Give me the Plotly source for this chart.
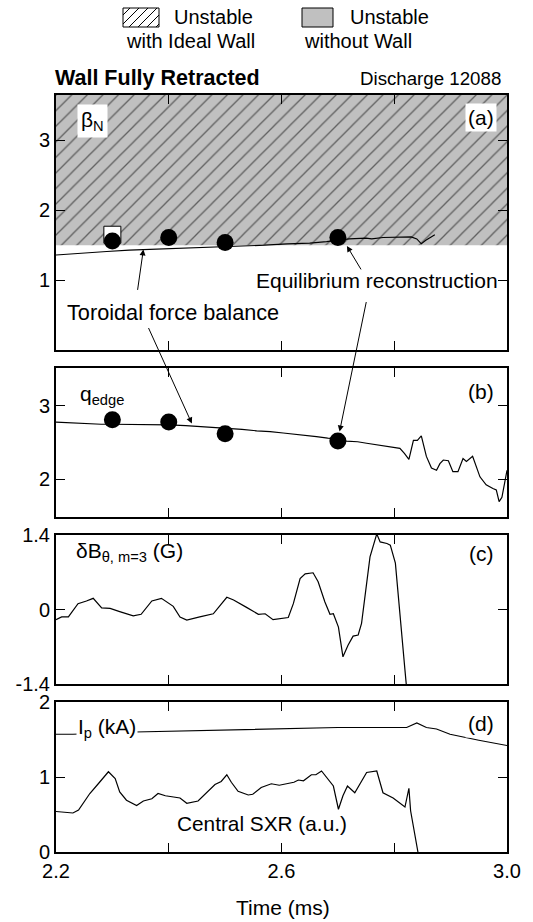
import plotly.graph_objects as go

# ---------------- data ----------------
time_range = [2.2, 3.0]
x_tickvals = [2.2, 2.4, 2.6, 2.8, 3.0]
x_ticktext = ["2.2", "", "2.6", "", "3.0"]

# (a) beta_N
nowall_limit = 1.5          # lower edge of unstable region
beta_top = 3.7
beta_t = [2.2, 2.23, 2.26, 2.29, 2.33, 2.37, 2.41, 2.45, 2.49, 2.53, 2.57, 2.61, 2.65,
          2.68, 2.70, 2.72, 2.75, 2.76, 2.78, 2.81, 2.83, 2.84, 2.848, 2.856, 2.865, 2.872]
beta_v = [1.36, 1.38, 1.39, 1.41, 1.43, 1.44, 1.45, 1.46, 1.47, 1.48, 1.50, 1.52, 1.53,
          1.55, 1.57, 1.59, 1.60, 1.59, 1.61, 1.61, 1.62, 1.59, 1.52, 1.57, 1.61, 1.65]
beta_eq_t = [2.3, 2.4, 2.5, 2.7]
beta_eq_v = [1.56, 1.61, 1.54, 1.61]
beta_sq_t = [2.3]
beta_sq_v = [1.65]

# (b) q_edge
q_t = [2.2, 2.22, 2.25, 2.28, 2.3, 2.325, 2.35, 2.37, 2.4, 2.43, 2.455, 2.48, 2.514, 2.53,
       2.556, 2.58, 2.603, 2.63, 2.662, 2.682, 2.7, 2.715, 2.735, 2.751, 2.77, 2.792, 2.81,
       2.818, 2.826, 2.834, 2.841, 2.848, 2.857, 2.866, 2.875, 2.881, 2.887, 2.896, 2.904,
       2.913, 2.922, 2.928, 2.939, 2.952, 2.963, 2.975, 2.981, 2.986, 2.991, 3.0]
q_v = [2.78, 2.77, 2.76, 2.75, 2.75, 2.75, 2.74, 2.74, 2.74, 2.73, 2.72, 2.71, 2.69, 2.68,
       2.66, 2.65, 2.63, 2.61, 2.58, 2.56, 2.55, 2.52, 2.51, 2.49, 2.47, 2.44, 2.42,
       2.35, 2.27, 2.53, 2.53, 2.59, 2.31, 2.15, 2.12, 2.21, 2.26, 2.25, 2.10,
       2.10, 2.28, 2.24, 2.31, 2.03, 1.92, 1.87, 1.85, 1.69, 1.75, 2.12]
q_eq_t = [2.3, 2.4, 2.5, 2.7]
q_eq_v = [2.81, 2.78, 2.62, 2.52]

# (c) delta B_theta, m=3
db_t = [2.200, 2.210, 2.222, 2.239, 2.254, 2.266, 2.281, 2.296, 2.313, 2.337, 2.351, 2.370,
        2.387, 2.408, 2.420, 2.432, 2.455, 2.479, 2.503, 2.515, 2.538, 2.559, 2.571, 2.585,
        2.612, 2.621, 2.633, 2.642, 2.656, 2.665, 2.677, 2.686, 2.692, 2.701, 2.709, 2.718,
        2.727, 2.736, 2.742, 2.751, 2.757, 2.769, 2.775, 2.787, 2.793, 2.802, 2.810, 2.819, 2.823]
db_v = [-0.19, -0.14, -0.14, 0.11, 0.16, 0.21, 0.03, 0.02, -0.04, -0.12, -0.09, 0.16,
        0.21, 0.06, -0.14, -0.20, -0.14, -0.08, 0.23, 0.18, 0.04, -0.09, -0.08, -0.19,
        -0.15, 0.11, 0.58, 0.67, 0.69, 0.52, 0.14, -0.09, -0.08, -0.33, -0.89, -0.67,
        -0.50, -0.48, -0.26, 0.55, 0.99, 1.42, 1.27, 1.24, 1.21, 0.87, -0.01, -1.14, -1.60]

# (d) plasma current and central SXR
ip_t = [2.2, 2.23, 2.34, 2.45, 2.6, 2.7, 2.822, 2.84, 2.857, 2.875, 2.899, 2.929, 2.95, 3.0]
ip_v = [1.57, 1.57, 1.60, 1.62, 1.65, 1.66, 1.66, 1.72, 1.66, 1.64, 1.57, 1.52, 1.49, 1.42]
sxr_t = [2.2, 2.23, 2.24, 2.26, 2.275, 2.293, 2.305, 2.313, 2.325, 2.343, 2.355, 2.37, 2.381,
         2.394, 2.42, 2.432, 2.452, 2.466, 2.482, 2.493, 2.503, 2.511, 2.523, 2.541, 2.549,
         2.564, 2.582, 2.596, 2.61, 2.622, 2.63, 2.639, 2.653, 2.661, 2.671, 2.692, 2.701,
         2.709, 2.717, 2.73, 2.751, 2.769, 2.78, 2.798, 2.819, 2.826, 2.829, 2.842]
sxr_v = [0.54, 0.52, 0.56, 0.78, 0.91, 1.07, 0.98, 0.80, 0.69, 0.62, 0.68, 0.71, 0.78,
         0.75, 0.72, 0.65, 0.68, 0.78, 0.90, 0.94, 1.03, 0.93, 0.81, 0.76, 0.77,
         0.86, 0.91, 0.89, 0.91, 0.93, 0.96, 0.95, 1.03, 1.03, 1.08, 0.88, 0.57,
         0.75, 0.88, 0.79, 1.06, 1.08, 0.79, 0.72, 0.60, 0.85, 0.55, 0.0]

# ---------------- layout geometry (pixels) ----------------
W, H = 533, 922
L, R, T, B = 56, 507, 95, 852
FONT = "Liberation Sans, Arial, Helvetica, sans-serif"
GRAY = "#c0c0c0"


def xp(px):
    return (px - L) / (R - L)


def yp(py):
    return (B - py) / (B - T)


panels = [(95, 350), (368, 517), (535, 684), (702, 852)]
y_ranges = [[0, 3.65], [1.48, 3.52], [-1.4, 1.4], [0, 2]]
y_tickvals = [[1, 2, 3], [2, 3], [-1.4, 0, 1.4], [0, 1, 2]]
y_ticktext = [["1", "2", "3"], ["2", "3"], ["-1.4", "0", "1.4"], ["0", "1", "2"]]

fig = go.Figure()

line_style = dict(color="black", width=1.2)

# (a)
fig.add_trace(go.Scatter(
    x=[time_range[0], time_range[1], time_range[1], time_range[0]],
    y=[nowall_limit, nowall_limit, beta_top, beta_top],
    fill="toself", fillcolor=GRAY, mode="lines", line=dict(width=0),
    fillpattern=dict(shape="/", fgcolor="black", bgcolor=GRAY, size=11, solidity=0.12),
    xaxis="x", yaxis="y", hoverinfo="skip", showlegend=False))
fig.add_trace(go.Scatter(x=beta_t, y=beta_v, mode="lines", line=line_style,
                         xaxis="x", yaxis="y", showlegend=False))
fig.add_trace(go.Scatter(x=beta_sq_t, y=beta_sq_v, mode="markers",
                         marker=dict(symbol="square", size=17, color="white",
                                     line=dict(color="black", width=1)),
                         xaxis="x", yaxis="y", showlegend=False))
fig.add_trace(go.Scatter(x=beta_eq_t, y=beta_eq_v, mode="markers",
                         marker=dict(symbol="circle", size=17, color="black"),
                         xaxis="x", yaxis="y", showlegend=False))
# (b)
fig.add_trace(go.Scatter(x=q_t, y=q_v, mode="lines", line=line_style,
                         xaxis="x2", yaxis="y2", showlegend=False))
fig.add_trace(go.Scatter(x=q_eq_t, y=q_eq_v, mode="markers",
                         marker=dict(symbol="circle", size=17, color="black"),
                         xaxis="x2", yaxis="y2", showlegend=False))
# (c)
fig.add_trace(go.Scatter(x=db_t, y=db_v, mode="lines", line=line_style,
                         xaxis="x3", yaxis="y3", showlegend=False))
# (d)
fig.add_trace(go.Scatter(x=ip_t, y=ip_v, mode="lines", line=line_style,
                         xaxis="x4", yaxis="y4", showlegend=False))
fig.add_trace(go.Scatter(x=sxr_t, y=sxr_v, mode="lines", line=line_style,
                         xaxis="x4", yaxis="y4", showlegend=False))

axis_common = dict(showline=True, linecolor="black", linewidth=2, mirror="ticks",
                   ticks="inside", ticklen=9, tickwidth=1, tickcolor="black",
                   showgrid=False, zeroline=False,
                   tickfont=dict(family=FONT, size=20, color="black"))

layout = dict(width=W, height=H, plot_bgcolor="white", paper_bgcolor="white",
              margin=dict(l=L, r=W - R, t=T, b=H - B), showlegend=False,
              font=dict(family=FONT, size=20, color="black"))
for i, (top, bot) in enumerate(panels):
    n = "" if i == 0 else str(i + 1)
    layout["xaxis" + n] = dict(axis_common, range=time_range, domain=[0, 1],
                               anchor="y" + n, tickvals=x_tickvals, ticktext=x_ticktext,
                               showticklabels=(i == 3))
    layout["yaxis" + n] = dict(axis_common, range=y_ranges[i], domain=[yp(bot), yp(top)],
                               anchor="x" + n, tickvals=y_tickvals[i], ticktext=y_ticktext[i])
fig.update_layout(**layout)


def txt(text, x, y, xanchor="center", size=20, bg=None, pad=1):
    a = dict(text=text, x=xp(x), y=yp(y), xref="paper", yref="paper",
             xanchor=xanchor, yanchor="middle", showarrow=False,
             font=dict(family=FONT, size=size, color="black"), borderpad=pad)
    if bg:
        a["bgcolor"] = bg
    fig.add_annotation(**a)


# legend
txt("Unstable", 213, 17)
txt("with Ideal Wall", 190, 41)
txt("Unstable", 389, 17)
txt("without Wall", 358, 41)
fig.add_shape(type="rect", xref="paper", yref="paper", x0=xp(123), x1=xp(159),
              y0=yp(27), y1=yp(8), fillcolor="white", line=dict(color="black", width=1))
path = ""
bx0, bx1, by0, by1 = 123, 159, 8, 27
for k in range(-12, 48, 9):
    xa, ya = bx0 + k, by1
    xb, yb = bx0 + k + (by1 - by0), by0
    if xa < bx0:
        ya = by1 - (bx0 - xa); xa = bx0
    if xb > bx1:
        yb = by0 + (xb - bx1); xb = bx1
    if xa < xb:
        path += f"M{xp(xa)},{yp(ya)} L{xp(xb)},{yp(yb)} "
fig.add_shape(type="path", xref="paper", yref="paper", path=path,
              line=dict(color="black", width=1))
fig.add_shape(type="rect", xref="paper", yref="paper", x0=xp(302), x1=xp(333),
              y0=yp(27), y1=yp(8), fillcolor=GRAY, line=dict(color="black", width=1))

# titles
txt("<b>Wall Fully Retracted</b>", 53, 78, xanchor="left", size=21.5)
txt("Discharge 12088", 503, 78, xanchor="right", size=18.7)

# panel labels
txt("β<sub>N</sub>", 92, 121, bg="white", pad=3, size=21)
txt("(a)", 481, 118, bg="white", pad=2, size=21)
txt("q<sub>edge</sub>", 78, 395, xanchor="left", size=21)
txt("(b)", 481, 392, bg="white", pad=2, size=21)
txt("δB<sub>θ, m=3</sub> (G)", 74, 552, xanchor="left", size=21)
txt("(c)", 481, 553, bg="white", pad=2, size=21)
txt("I<sub>p</sub> (kA)", 76, 728, xanchor="left", bg="white", pad=1, size=21)
txt("(d)", 481, 723, bg="white", pad=2, size=21)
txt("Central SXR (a.u.)", 262, 823, size=20.8)
txt("Toroidal force balance", 173, 312, size=21.7)
txt("Equilibrium reconstruction", 377, 280, size=21)
txt("Time (ms)", 283, 908, size=21)

# arrows (head in data coords, tail offset in pixels)
arrow = dict(text="", showarrow=True, arrowhead=2, arrowsize=1.2, arrowwidth=1,
             arrowcolor="black", axref="pixel", ayref="pixel")
fig.add_annotation(**arrow, x=2.355, y=1.44, xref="x", yref="y", ax=-6, ay=42)
fig.add_annotation(**arrow, x=2.441, y=2.76, xref="x2", yref="y2", ax=-44, ay=-97)
fig.add_annotation(**arrow, x=2.716, y=1.49, xref="x", yref="y", ax=15, ay=25)
fig.add_annotation(**arrow, x=2.703, y=2.65, xref="x2", yref="y2", ax=27, ay=-131)

fig.write_html("out.html", config={"displayModeBar": False},
               post_script="document.body.style.margin='0';")
